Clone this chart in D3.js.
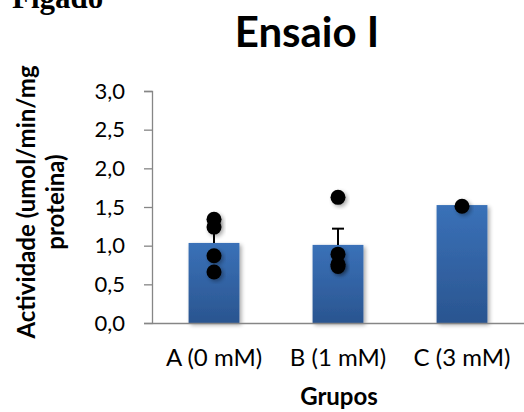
<!DOCTYPE html>
<html>
<head>
<meta charset="utf-8">
<script src="https://cdn.jsdelivr.net/npm/d3@7"></script>
<style>
  body { margin: 0; background: #fff; }
  text { font-family: Lato, "Open Sans", sans-serif; }
</style>
</head>
<body>
<svg id="chart" width="524" height="412"></svg>
<script>
// grupos e médias
var grupos = ['A (0 mM)', 'B (1 mM)', 'C (3 mM)'];
var medias = [1.035, 1.01, 1.525];
var erros = [0.31, 0.21, 0];
// valores individuais (pontos)
var pontosA = [1.34, 1.24, 0.87, 0.66];
var pontosB = [1.625, 0.89, 0.76, 0.73];
var pontosC = [1.51];
var yTicks = [0, 0.5, 1, 1.5, 2, 2.5, 3];

var svg = d3.select('#chart');
var width = 524, height = 412;
var margin = {top: 91, right: 0, bottom: 89, left: 152};

var defs = svg.append('defs');
var grad = defs.append('linearGradient')
  .attr('id', 'barGrad')
  .attr('x1', 0).attr('y1', 0).attr('x2', 0).attr('y2', 1);
grad.append('stop').attr('offset', '0%').attr('stop-color', '#3a71b8');
grad.append('stop').attr('offset', '100%').attr('stop-color', '#2a5590');

var shadow = defs.append('filter').attr('id', 'sombra')
  .attr('x', '-20%').attr('y', '-20%').attr('width', '150%').attr('height', '150%');
shadow.append('feGaussianBlur').attr('in', 'SourceAlpha').attr('stdDeviation', 2);
shadow.append('feOffset').attr('dx', 2).attr('dy', 2).attr('result', 'off');
shadow.append('feComponentTransfer').append('feFuncA').attr('type', 'linear').attr('slope', 0.35);
var merge = shadow.append('feMerge');
merge.append('feMergeNode');
merge.append('feMergeNode').attr('in', 'SourceGraphic');

var x = d3.scaleBand()
  .domain(grupos)
  .range([margin.left, width - margin.right])
  .paddingInner(0.59)
  .paddingOuter(0.295);

var y = d3.scaleLinear()
  .domain([0, 3])
  .range([height - margin.bottom, margin.top]);

// eixo y
var yAxis = d3.axisLeft(y)
  .tickValues(yTicks)
  .tickSize(8)
  .tickPadding(19)
  .tickFormat(function(d){ return d3.format('.1f')(d).replace('.', ','); });

var gy = svg.append('g')
  .attr('transform', 'translate(' + margin.left + ',0)')
  .call(yAxis);
gy.selectAll('path, line').attr('stroke', '#868686').attr('stroke-width', 1.3);
gy.selectAll('text').attr('font-size', 22).attr('fill', '#000');

// barras
svg.append('g')
  .selectAll('rect')
  .data(medias)
  .enter()
  .append('rect')
  .attr('x', function(d, i){ return x(grupos[i]); })
  .attr('y', function(d){ return y(d); })
  .attr('width', x.bandwidth())
  .attr('height', function(d){ return y(0) - y(d); })
  .attr('fill', 'url(#barGrad)')
  .attr('filter', 'url(#sombra)');

// eixo x
var xAxis = d3.axisBottom(x).tickSize(0).tickPadding(26);
var gx = svg.append('g')
  .attr('transform', 'translate(0,' + y(0) + ')')
  .call(xAxis);
gx.select('path').attr('stroke', '#868686').attr('stroke-width', 1.3);
gx.selectAll('text').attr('font-size', 24).attr('fill', '#000');

// barras de erro (só positivas)
var eb = svg.append('g');
medias.forEach(function(m, i){
  if (!erros[i]) return;
  var cx = x(grupos[i]) + x.bandwidth() / 2;
  eb.append('line')
    .attr('x1', cx).attr('x2', cx)
    .attr('y1', y(m)).attr('y2', y(m + erros[i]))
    .attr('stroke', '#000').attr('stroke-width', 2);
  eb.append('line')
    .attr('x1', cx - 6).attr('x2', cx + 6)
    .attr('y1', y(m + erros[i])).attr('y2', y(m + erros[i]))
    .attr('stroke', '#000').attr('stroke-width', 2);
});

// pontos
var todos = [pontosA, pontosB, pontosC];
var pts = [];
todos.forEach(function(arr, i){
  arr.forEach(function(v){ pts.push({g: grupos[i], v: v}); });
});
svg.append('g')
  .selectAll('circle')
  .data(pts)
  .enter()
  .append('circle')
  .attr('cx', function(d){ return x(d.g) + x.bandwidth() / 2; })
  .attr('cy', function(d){ return y(d.v); })
  .attr('r', 7.5)
  .attr('fill', '#000')
  .attr('filter', 'url(#sombra)');

// títulos
svg.append('text')
  .attr('x', 307).attr('y', 47)
  .attr('text-anchor', 'middle')
  .attr('font-size', 42).attr('font-weight', 'bold')
  .text('Ensaio I');

svg.append('text')
  .attr('x', 12).attr('y', 8)
  .style('font-family', '"Liberation Serif", serif')
  .attr('font-size', 31).attr('font-weight', 'bold')
  .text('Figado');

svg.append('text')
  .attr('x', 339).attr('y', 405)
  .attr('text-anchor', 'middle')
  .attr('font-size', 24).attr('font-weight', 'bold')
  .text('Grupos');

var yl = svg.append('text')
  .attr('transform', 'translate(35,202) rotate(-90)')
  .attr('text-anchor', 'middle')
  .attr('font-size', 24).attr('font-weight', 'bold');
yl.append('tspan').attr('x', 0).attr('dy', 0).text('Actividade (umol/min/mg');
yl.append('tspan').attr('x', 0).attr('dy', 29).text('proteina)');
</script>
</body>
</html>
